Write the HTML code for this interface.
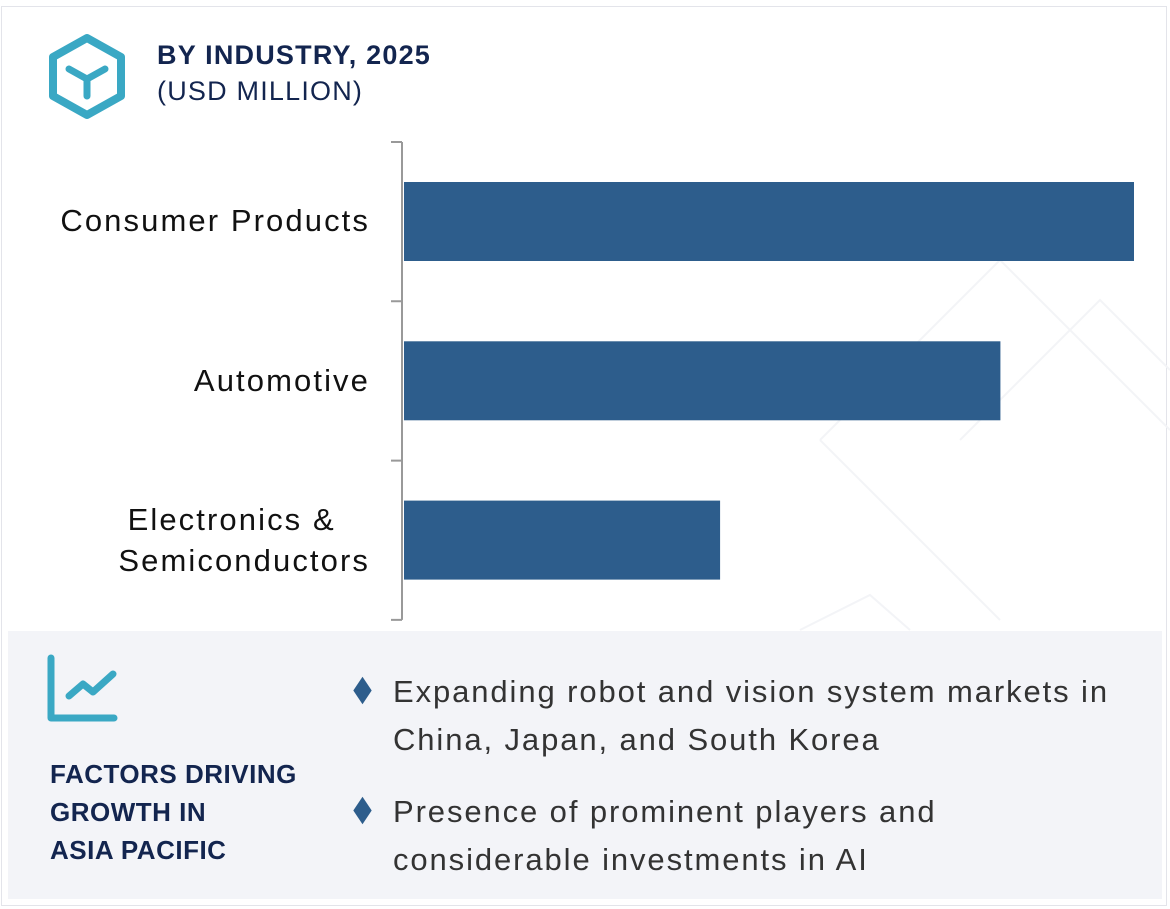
<!DOCTYPE html>
<html><head><meta charset="utf-8"><style>
body{margin:0;width:1170px;height:909px;background:#fff;font-family:"Liberation Sans",sans-serif;overflow:hidden;position:relative}
.frame{position:absolute;left:1px;top:6px;width:1166px;height:900px;border:1px solid #e3e4ea;box-sizing:border-box}
.t1{position:absolute;left:157px;top:40px;font-size:27px;font-weight:bold;color:#13254f;letter-spacing:1.2px}
.t2{position:absolute;left:157px;top:76px;font-size:27px;color:#13254f;letter-spacing:1.2px}
.lab{position:absolute;right:800px;font-size:31px;color:#111;text-align:right;line-height:41px;letter-spacing:2.1px}
.panel{position:absolute;left:8px;top:631px;width:1154px;height:268px;background:#f3f4f8}
.ft{position:absolute;left:50px;top:755px;font-size:26px;font-weight:bold;color:#13254f;line-height:38px;letter-spacing:0.5px}
.b{position:absolute;left:393px;font-size:31px;color:#333;line-height:48px;letter-spacing:1.9px}
.d{position:absolute;left:356px;width:13px;height:13px;background:#2d5d8c;transform:scaleY(1.5) rotate(45deg)}
</style></head><body>
<div class="frame"></div>
<svg width="1170" height="909" style="position:absolute;left:0;top:0">
<g stroke="#f3f4f7" stroke-width="2" fill="none">
<polyline points="820,440 1000,260 1170,430"/><polyline points="960,440 1100,300 1170,370"/>
<polyline points="820,440 1000,620"/><polyline points="800,630 870,595 910,630"/>
</g></svg>
<svg width="80" height="90" style="position:absolute;left:47px;top:33px">
<polygon points="40,5 74,24 74,63 40,82 6,63 6,24" fill="none" stroke="#3aa8c4" stroke-width="8" stroke-linejoin="round"/>
<path d="M22,36 L40,46 L58,36 M40,46 L40,63" fill="none" stroke="#3aa8c4" stroke-width="7" stroke-linecap="round"/>
</svg>
<div class="t1">BY INDUSTRY, 2025</div>
<div class="t2">(USD MILLION)</div>
<svg id="chart" width="1170" height="640" style="position:absolute;left:0;top:0"></svg>
<div class="lab" style="top:200px">Consumer Products</div>
<div class="lab" style="top:360px">Automotive</div>
<div class="lab" style="top:499px;text-align:center;right:800px"><span style="margin-right:25px">Electronics &amp;</span><br>Semiconductors</div>
<div class="panel"></div>
<svg width="80" height="75" style="position:absolute;left:45px;top:652px">
<path d="M6,6 L6,66 L69,66" fill="none" stroke="#3aa8c4" stroke-width="7" stroke-linecap="round" stroke-linejoin="round"/>
<path d="M24,44 L38,32 L48,40 L68,22" fill="none" stroke="#3aa8c4" stroke-width="7" stroke-linecap="round" stroke-linejoin="round"/>
</svg>
<div class="ft">FACTORS DRIVING<br>GROWTH IN<br>ASIA PACIFIC</div>
<div class="d" style="top:684px"></div>
<div class="b" style="top:668px">Expanding robot and vision system markets in<br>China, Japan, and South Korea</div>
<div class="d" style="top:804px"></div>
<div class="b" style="top:788px">Presence of prominent players and<br>considerable investments in AI</div>
<script>
const categories=["Consumer Products","Automotive","Electronics & Semiconductors"];
const values=[1000,817,433];
const maxVal=1000;
const svg=document.getElementById('chart');
const NS='http://www.w3.org/2000/svg';
const x0=404,xW=730,yTop=142,band=159.3;
function xs(v){return x0+v/maxVal*xW;}
function yb(i){return yTop+i*band;}
const ax=document.createElementNS(NS,'path');
let d='M402,'+yTop+' L402,'+(yTop+band*categories.length);
for(let i=0;i<=categories.length;i++){d+=' M391,'+yb(i)+' L402,'+yb(i);}
ax.setAttribute('d',d);ax.setAttribute('stroke','#999');ax.setAttribute('stroke-width','2');ax.setAttribute('fill','none');


svg.appendChild(ax);
values.forEach((v,i)=>{
const r=document.createElementNS(NS,'rect');
r.setAttribute('x',x0);r.setAttribute('y',yb(i)+40);r.setAttribute('width',xs(v)-x0);r.setAttribute('height',79);r.setAttribute('fill','#2d5d8c');


svg.appendChild(r);
});
</script>
</body></html>
